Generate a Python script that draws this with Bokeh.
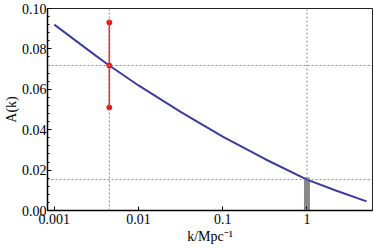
from bokeh.plotting import figure
from bokeh.models import Range1d, FixedTicker, Span, NumeralTickFormatter
from bokeh.embed import file_html
from bokeh.resources import INLINE

# curve A(k), values
k_curve = [0.001, 0.00316, 0.0045, 0.01, 0.0316, 0.1, 0.316, 1.0, 2.24, 5.1]
A_curve = [0.092, 0.0764, 0.0718, 0.0619, 0.0488, 0.0366, 0.0255, 0.0153, 0.0098, 0.0045]

# red measurement with error bar
k_obs = 0.0045
A_obs = [0.051, 0.0718, 0.0931]

# gray bar at pivot
k_piv = 1.0
A_piv_bar = 0.0163
A_piv_line = 0.0153

x_ticks = [0.001, 0.01, 0.1, 1]
x_tick_labels = ["0.001", "0.01", "0.1", "1"]
y_ticks = [0.0, 0.02, 0.04, 0.06, 0.08, 0.10]

FONT = "Liberation Serif"

p = figure(width=374, height=249, x_axis_type="log",
           x_range=Range1d(0.00083, 6.0), y_range=Range1d(0.0, 0.1),
           output_backend="svg", toolbar_location=None,
           min_border_left=44, min_border_right=2, min_border_top=8, min_border_bottom=39)

p.xgrid.visible = False
p.ygrid.visible = False
p.outline_line_color = "#222222"
p.outline_line_width = 1
p.background_fill_color = "white"
p.border_fill_color = "white"

# reference dashed lines
dash_col = "#8a8a8a"
for k in [k_obs, k_piv]:
    p.add_layout(Span(location=k, dimension="height", line_color=dash_col,
                      line_dash="2 2", line_width=1))
for a in [A_obs[1], A_piv_line]:
    p.add_layout(Span(location=a, dimension="width", line_color=dash_col,
                      line_dash="2 2", line_width=1))

# gray bar
p.segment(x0=[k_piv], y0=[0.0], x1=[k_piv], y1=[A_piv_bar],
          line_color="#888888", line_width=6, line_cap="butt")

# blue curve
p.line(k_curve, A_curve, line_color="#3c3ca0", line_width=2)

# red error bar
p.segment(x0=[k_obs], y0=[A_obs[0]], x1=[k_obs], y1=[A_obs[2]],
          line_color="#ee1111", line_width=1.5)
p.scatter([k_obs] * 3, A_obs, size=5, color="#ee1111")

# axes
p.xaxis.ticker = FixedTicker(ticks=x_ticks)
p.xaxis.major_label_overrides = {t: l for t, l in zip(x_ticks, x_tick_labels)}
p.yaxis.ticker = FixedTicker(ticks=y_ticks,
                             minor_ticks=[i * 0.004 for i in range(26)])
p.yaxis.formatter = NumeralTickFormatter(format="0.00")

for ax in [p.xaxis[0], p.yaxis[0]]:
    ax.axis_line_color = "black"
    ax.axis_line_width = 1.5
    ax.major_tick_in = 4
    ax.major_tick_out = 0
    ax.minor_tick_in = 2
    ax.minor_tick_out = 0
    ax.major_tick_line_color = "black"
    ax.minor_tick_line_color = "black"
    ax.major_label_text_font = FONT
    ax.major_label_text_font_size = "14px"
    ax.major_label_text_color = "black"
    ax.axis_label_text_font = FONT
    ax.axis_label_text_font_size = "14px"
    ax.axis_label_text_font_style = "normal"
    ax.axis_label_text_color = "black"

p.yaxis.major_label_standoff = 1
p.yaxis.axis_label_standoff = 0
p.xaxis.major_label_standoff = 3
p.xaxis.axis_label_standoff = 2

p.xaxis.minor_tick_line_color = None
p.xaxis.axis_label = "k/Mpc⁻¹"
p.yaxis.axis_label = "A(k)"

open("out.html", "w").write(file_html(p, INLINE))
